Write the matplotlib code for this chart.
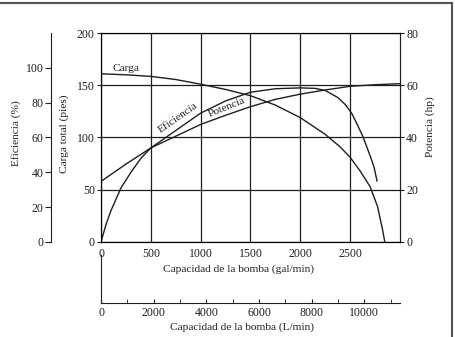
import matplotlib.pyplot as plt
from matplotlib.lines import Line2D

plt.rcParams['font.family'] = 'Liberation Serif'
plt.rcParams['font.size'] = 8.5

# curvas (gal/min)
gpm_carga = [0, 250, 500, 750, 1000, 1250, 1500, 1750, 2000, 2250, 2400, 2500, 2600, 2700, 2775, 2825, 2848]
carga_ft = [161, 160, 158.5, 155.5, 151, 146, 140, 131, 119, 103, 91, 81, 68, 53, 34, 12, 0]

gpm_efic = [0, 50, 100, 200, 300, 400, 500, 750, 1000, 1250, 1500, 1750, 2000, 2150, 2250, 2375, 2450, 2520, 2575, 2625, 2665, 2710, 2740, 2770]
eficiencia = [0, 10, 18, 31, 40, 48, 54, 64, 74, 81, 86, 88, 88.5, 88.2, 87, 83, 79, 73.5, 67, 61, 55, 48, 43, 35]

gpm_pot = [0, 250, 500, 750, 1000, 1250, 1500, 1750, 2000, 2250, 2500, 2750, 3000]
potencia_hp = [23.2, 29.8, 36, 40.5, 45, 48.5, 51.8, 54.6, 56.6, 58.2, 59.6, 60.2, 60.6]

gpm_ticks = [0, 500, 1000, 1500, 2000, 2500]
carga_ticks = [0, 50, 100, 150, 200]
efic_ticks = [0, 20, 40, 60, 80, 100]
pot_ticks = [0, 20, 40, 60, 80]
lpm_ticks = [0, 2000, 4000, 6000, 8000, 10000]
lpm_minor = [1000, 3000, 5000, 7000, 9000, 11000]
L_POR_GAL = 3.785

ink = '#1e1e1e'
lab = 8.2

fig = plt.figure(figsize=(4.55, 3.37), dpi=100)

# escala en L/min (primero, para que quede debajo)
ax_l = fig.add_axes([0.222, 0.101, 0.657, 0.142])
ax_l.patch.set_visible(False)
ax_l.set_xlim(0, 3000 * L_POR_GAL)
ax_l.set_xticks(lpm_ticks)
ax_l.set_xticks(lpm_minor, minor=True)
ax_l.set_yticks([])
ax_l.spines['top'].set_visible(False)
ax_l.spines['right'].set_visible(False)
ax_l.spines['left'].set_color(ink)
ax_l.spines['bottom'].set_color(ink)
ax_l.tick_params(axis='x', which='both', direction='in', length=3, pad=3, colors=ink)
ax_l.set_xlabel('Capacidad de la bomba (L/min)', fontsize=lab, color=ink)
ax_l.xaxis.set_label_coords(0.47, -0.40)

# eje principal: carga
ax = fig.add_axes([0.222, 0.282, 0.657, 0.620])
ax.patch.set_visible(False)
ax.plot(gpm_carga, carga_ft, color=ink, lw=1.0)
ax.set_xlim(0, 3000)
ax.set_ylim(0, 200)
ax.set_xticks(gpm_ticks)
ax.set_yticks(carga_ticks)
ax.grid(True, color=ink, lw=0.9)
ax.tick_params(axis='x', length=0, pad=4, colors=ink)
ax.tick_params(axis='y', length=3, pad=1.5, colors=ink)
for s in ax.spines.values():
    s.set_color(ink)
ax.set_ylabel('Carga total (pies)', fontsize=lab, color=ink)
ax.yaxis.set_label_coords(-0.107, 0.52)
ax.set_xlabel('Capacidad de la bomba (gal/min)', fontsize=lab, color=ink)
ax.xaxis.set_label_coords(0.46, -0.105)
ax.text(112, 164, 'Carga', fontsize=lab, color=ink)

# eficiencia, eje desplazado a la izquierda
ax_ef = ax.twinx()
ax_ef.plot(gpm_efic, eficiencia, color=ink, lw=1.0)
ax_ef.set_ylim(0, 120)
ax_ef.set_yticks(efic_ticks)
ax_ef.spines['right'].set_visible(False)
ax_ef.spines['top'].set_visible(False)
ax_ef.spines['bottom'].set_visible(False)
ax_ef.spines['left'].set_visible(True)
ax_ef.spines['left'].set_position(('outward', 36))
ax_ef.spines['left'].set_color(ink)
ax_ef.yaxis.set_ticks_position('left')
ax_ef.yaxis.set_label_position('left')
ax_ef.tick_params(axis='y', length=4, pad=1.5, colors=ink)
ax_ef.set_ylabel('Eficiencia (%)', fontsize=lab, color=ink)
ax_ef.yaxis.set_label_coords(-0.268, 0.52)
ax_ef.text(770, 71.5, 'Eficiencia', fontsize=lab, color=ink, rotation=35,
           ha='center', va='center')

# potencia, eje derecho
ax_pot = ax.twinx()
ax_pot.plot(gpm_pot, potencia_hp, color=ink, lw=1.0)
ax_pot.set_ylim(0, 80)
ax_pot.set_yticks(pot_ticks)
ax_pot.spines['right'].set_color(ink)
ax_pot.tick_params(axis='y', length=3, pad=1.5, colors=ink)
ax_pot.set_ylabel('Potencia (hp)', fontsize=lab, color=ink)
ax_pot.yaxis.set_label_coords(1.085, 0.55)
ax_pot.text(1260, 51.5, 'Potencia', fontsize=lab, color=ink, rotation=22,
            ha='center', va='center')

# marco del recorte
fig.add_artist(Line2D([0, 452 / 455], [1 - 3 / 337] * 2, transform=fig.transFigure,
                      color='#555555', lw=1.5))
fig.add_artist(Line2D([452 / 455] * 2, [0, 1 - 3 / 337], transform=fig.transFigure,
                      color='#555555', lw=1.5))

fig.savefig('out.png', dpi=100)
